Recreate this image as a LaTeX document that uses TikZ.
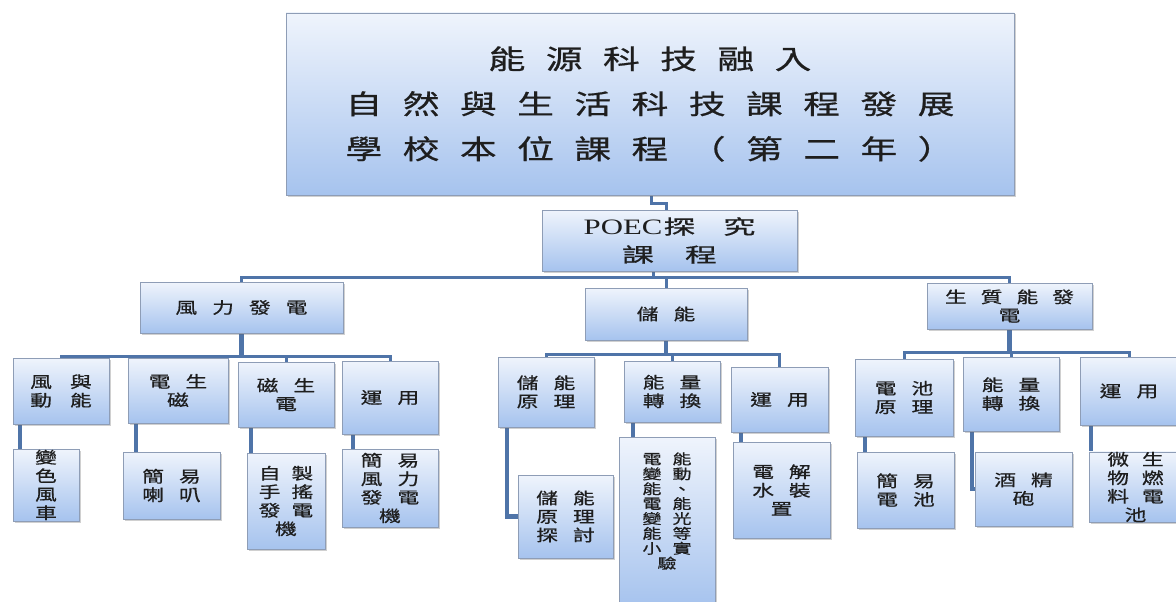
\documentclass[tikz,border=0pt]{standalone}
\usepackage{fontspec}
\usepackage{graphicx}
\usetikzlibrary{shadows,backgrounds}
\newfontfamily\cjk[FakeBold=0.6]{Noto Sans CJK TC}
\newfontfamily\latP[FakeStretch=1.4]{Liberation Serif}
\definecolor{ln}{HTML}{4F74A8}
\definecolor{bd}{HTML}{8E9DB6}
\definecolor{ftop}{HTML}{EFF4FC}
\definecolor{fbot}{HTML}{A6C3EE}
\definecolor{tx}{HTML}{1E1E1E}
\newlength\cgap \setlength\cgap{15pt}
\def\sx{1.36}
\ExplSyntaxOn
\NewDocumentCommand\spc{O{\cgap}m}{
  \bool_set_true:N \l_tmpa_bool
  \tl_map_inline:nn {#2}{
    \bool_if:NTF \l_tmpa_bool {\bool_set_false:N \l_tmpa_bool}{\hspace{#1}}
    \scalebox{\sx}[1]{##1}
  }
}
\ExplSyntaxOff
\newcommand\bx[7][]{%
  \pgfmathsetmacro\bxw{#5-#3}\pgfmathsetmacro\bxh{#6-#4}%
  \node[box,#1,minimum width=\bxw pt,minimum height=\bxh pt] (#2) at ({(#3+#5)/2},{(#4+#6)/2}) {#7};}
\tikzset{
  box/.style={draw=bd, line width=0.8pt, top color=ftop, bottom color=fbot,
    inner sep=0pt, align=center, text=tx,
    drop shadow={shadow xshift=1.5pt, shadow yshift=-1.5pt, opacity=0.3, fill=black!60},
    font=\cjk\fontsize{16}{18.5}\selectfont},
  bigbox/.style={font=\cjk\fontsize{27}{45}\selectfont},
  pbox/.style={font=\cjk\fontsize{20}{28}\selectfont\def\sx{1.6}},
  tight/.style={font=\cjk\fontsize{14}{14.9}\selectfont},
  conn/.style={draw=ln, line width=3pt},
  conn2/.style={draw=ln, line width=4.2pt},
}
\begin{document}
\begin{tikzpicture}[x=1pt,y=-1pt]
\useasboundingbox (0,0) rectangle (1176,602);
% top levels
\bx[bigbox]{top}{286}{13}{1014}{195}{\spc[20.5pt]{能源科技融入}\\\spc[20.5pt]{自然與生活科技課程發展}\\\spc[20.5pt]{學校本位課程（第二年）}}
\bx[pbox]{poec}{542}{210}{797}{271}{{\latP\fontsize{22}{28}\selectfont POEC}\hspace{1pt}\spc{探}\hspace{28pt}\spc{究}\\\spc[31pt]{課程}}
\bx{wind}{140}{282}{343}{333}{\spc{風力發電}}
\bx{store}{585}{288}{747}{340}{\spc{儲能}}
\bx{bio}{927}{283}{1092}{329}{\spc[14pt]{生質能發}\\\spc{電}}
% wind children
\bx{w1}{13}{358}{109}{424}{\spc[18pt]{風與}\\\spc[18pt]{動能}}
\bx{w2}{128}{358}{228}{423}{\spc{電生}\\\spc{磁}}
\bx{w3}{238}{362}{334}{427}{\spc{磁生}\\\spc{電}}
\bx{w4}{342}{361}{438}{434}{\spc{運用}}
\bx{w1c}{13}{449}{79}{521}{\spc{變}\\\spc{色}\\\spc{風}\\\spc{車}}
\bx{w2c}{123}{452}{220}{519}{\spc{簡易}\\\spc{喇叭}}
\bx{w3c}{247}{453}{325}{549}{\spc[11pt]{自製}\\\spc[11pt]{手搖}\\\spc[11pt]{發電}\\\spc{機}}
\bx{w4c}{342}{449}{438}{527}{\spc{簡易}\\\spc{風力}\\\spc{發電}\\\spc{機}}
% store children
\bx{s1}{498}{357}{594}{427}{\spc{儲能}\\\spc{原理}}
\bx{s2}{624}{361}{720}{422}{\spc{能量}\\\spc{轉換}}
\bx{s3}{731}{367}{828}{432}{\spc{運用}}
\bx{s1c}{518}{475}{613}{558}{\spc{儲能}\\\spc{原理}\\\spc{探討}}
\bx[tight]{s2c}{619}{437}{715}{606}{\spc[11pt]{電能}\\\spc[11pt]{變動}\\\spc[11pt]{能、}\\\spc[11pt]{電能}\\\spc[11pt]{變光}\\\spc[11pt]{能等}\\\spc[11pt]{小實}\\\spc{驗}\rule[-22pt]{0pt}{0pt}}
\bx{s3c}{733}{442}{830}{538}{\spc{電解}\\\spc{水裝}\\\spc{置}}
% bio children
\bx{b1}{855}{359}{953}{436}{\spc{電池}\\\spc{原理}}
\bx{b2}{963}{357}{1059}{431}{\spc{能量}\\\spc{轉換}}
\bx{b3}{1080}{357}{1178}{425}{\spc{運用}}
\bx{b1c}{857}{452}{954}{528}{\spc{簡易}\\\spc{電池}}
\bx{b2c}{975}{452}{1072}{526}{\spc{酒精}\\\spc{砲}}
\bx{b3c}{1089}{452}{1182}{522}{\spc[13pt]{微生}\\\spc[13pt]{物燃}\\\spc[13pt]{料電}\\\spc{池}}
% connectors
\begin{scope}[on background layer]
\fill[white] (0,0) rectangle (1176,602);
\coordinate (k1) at (651,203);
\coordinate (k2) at (666,203);
\coordinate (kb) at (653,277);
\draw[conn] (top.south -| k1) -- (k1) -- (k2) -- (poec.north -| k2);
\draw[conn] (poec.south -| kb) -- (kb);
\draw[conn] (wind.north) -- (wind.north |- kb) -- (bio.north |- kb) -- (bio.north);
\draw[conn] (store.north) -- (store.north |- kb);
% level 2 buses
\coordinate (wb) at (0,356);
\draw[conn2] (wind.south) -- (wind.south |- wb);
\draw[conn] (w1.north) -- (w1.north |- wb) -- (w4.north |- wb) -- (w4.north);
\draw[conn] (w2.north) -- (w2.north |- wb);
\draw[conn] (w3.north) -- (w3.north |- wb);
\coordinate (sb) at (0,354);
\draw[conn2] (store.south) -- (store.south |- sb);
\draw[conn] (s1.north) -- (s1.north |- sb) -- (s3.north |- sb) -- (s3.north);
\draw[conn] (s2.north) -- (s2.north |- sb);
\coordinate (bb) at (0,352);
\draw[conn2] (bio.south) -- (bio.south |- bb);
\draw[conn] (b1.north) -- (b1.north |- bb) -- (b3.north |- bb) -- (b3.north);
\draw[conn] (b2.north) -- (b2.north |- bb);
% grandchildren
\coordinate (g1) at (20,0);
\coordinate (g2) at (136,0);
\coordinate (g3) at (251,0);
\coordinate (g4) at (353,0);
\coordinate (g5) at (507,0);
\coordinate (g6) at (633,0);
\coordinate (g7) at (741,0);
\coordinate (g8) at (865,0);
\coordinate (g9) at (972,0);
\coordinate (g10) at (1091,0);
\draw[conn2] (w1.south -| g1) |- (w1c.west);
\draw[conn2] (w2.south -| g2) |- (w2c.west);
\draw[conn2] (w3.south -| g3) |- (w3c.west);
\draw[conn2] (w4.south -| g4) |- (w4c.west);
\draw[conn2] (s1.south -| g5) |- (s1c.west);
\draw[conn2] (s2.south -| g6) |- (s2c.west);
\draw[conn2] (s3.south -| g7) |- (s3c.west);
\draw[conn2] (b1.south -| g8) |- (b1c.west);
\draw[conn2] (b2.south -| g9) |- (b2c.west);
\draw[conn2] (b3.south -| g10) |- (b3c.west);
\end{scope}
\end{tikzpicture}
\end{document}
